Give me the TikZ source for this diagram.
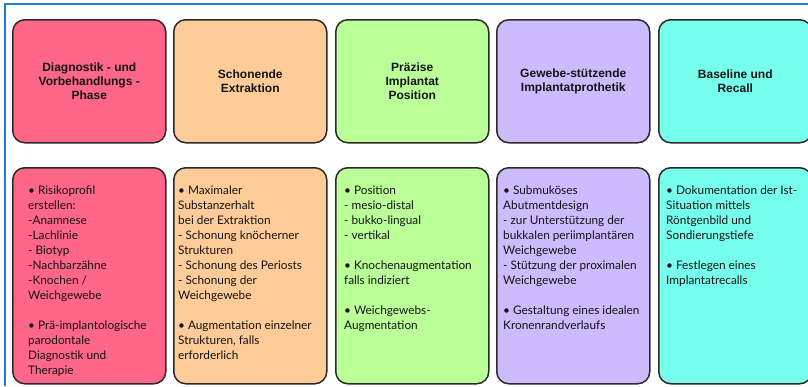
\documentclass[tikz,border=0pt]{standalone}
\usepackage{fontspec}
\setmainfont{Liberation Sans}
\newfontfamily\bodyfont{Lato}
\usetikzlibrary{calc}
\definecolor{cpink}{HTML}{FF6688}
\definecolor{cpeach}{HTML}{FFCC99}
\definecolor{cgreen}{HTML}{BBFF99}
\definecolor{clav}{HTML}{CCBBFF}
\definecolor{caqua}{HTML}{77FFEE}
\definecolor{cframe}{HTML}{2080D0}
\definecolor{cborder}{HTML}{2E2A2A}
\tikzset{
  card/.style={draw=cborder, line width=1.5pt, rounded corners=12pt, inner sep=0pt, anchor=north west, minimum width=153pt},
  headcard/.style={card, minimum height=123pt, font=\bfseries\fontsize{12}{14}\selectfont, align=center, text=black!92},
  bodycard/.style={card, minimum height=216pt},
  bodytext/.style={anchor=north west, inner sep=0pt, align=left, font=\bodyfont\fontsize{11.8}{15}\selectfont, text=black!92},
}
\begin{document}
\begin{tikzpicture}[x=1pt, y=-1pt]
\useasboundingbox (0,0) rectangle (808,386);
\fill[white] (0,0) rectangle (808,386);
\draw[cframe, line width=1.5pt] (5,386) -- (5,4) -- (808,4);
% headers
\node[headcard, fill=cpink] (t1) at (12,19) {Diagnostik - und\\Vorbehandlungs -\\Phase};
\node[headcard, fill=cpeach] (t2) at (173,19) {Schonende\\Extraktion};
\node[headcard, fill=cgreen] (t3) at (335,19) {Präzise\\Implantat\\Position};
\node[headcard, fill=clav] (t4) at (496,19) {Gewebe-stützende\\Implantatprothetik};
\node[headcard, fill=caqua] (t5) at (658,19) {Baseline und\\Recall};
% bodies
\node[bodycard, fill=cpink] (b1) at (12,167) {};
\node[bodycard, fill=cpeach] (b2) at (173,167) {};
\node[bodycard, fill=cgreen] (b3) at (335,167) {};
\node[bodycard, fill=clav] (b4) at (496,167) {};
\node[bodycard, fill=caqua] (b5) at (658,167) {};
\node[bodytext] (x1) at ($(b1.north west)+(16,19)$) {• Risikoprofil\\erstellen:\\-Anamnese\\-Lachlinie\\- Biotyp\\-Nachbarzähne\\-Knochen /\\Weichgewebe\\[15pt]• Prä-implantologische\\parodontale\\Diagnostik und\\Therapie};
\node[bodytext] (x2) at ($(b2.north west)+(5,19)$) {• Maximaler\\Substanzerhalt\\bei der Extraktion\\- Schonung knöcherner\\Strukturen\\- Schonung des Periosts\\- Schonung der\\Weichgewebe\\[15pt]• Augmentation einzelner\\Strukturen, falls\\erforderlich};
\node[bodytext] (x3) at ($(b3.north west)+(9,19)$) {• Position\\- mesio-distal\\- bukko-lingual\\- vertikal\\[15pt]• Knochenaugmentation\\falls indiziert\\[15pt]• Weichgewebs-\\Augmentation};
\node[bodytext] (x4) at ($(b4.north west)+(7,19)$) {• Submuköses\\Abutmentdesign\\- zur Unterstützung der\\bukkalen periimplantären\\Weichgewebe\\- Stützung der proximalen\\Weichgewebe\\[15pt]• Gestaltung eines idealen\\Kronenrandverlaufs};
\node[bodytext] (x5) at ($(b5.north west)+(8,19)$) {• Dokumentation der Ist-\\Situation mittels\\Röntgenbild und\\Sondierungstiefe\\[15pt]• Festlegen eines\\Implantatrecalls};
\end{tikzpicture}
\end{document}
